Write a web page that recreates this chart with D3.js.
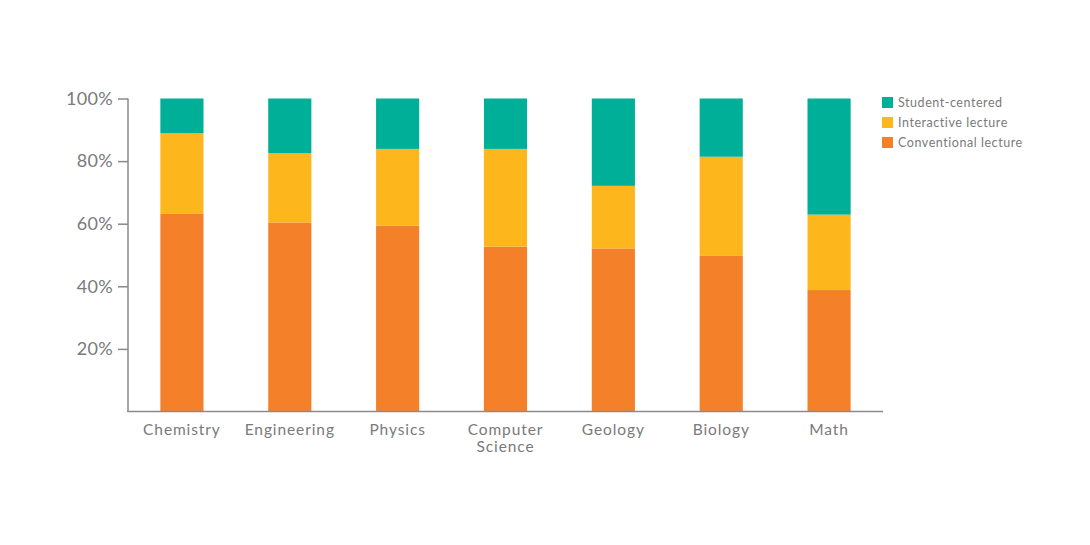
<!DOCTYPE html>
<html><head><meta charset="utf-8">
<script src="https://cdn.jsdelivr.net/npm/d3@7"></script>
<style>body{margin:0;background:#fff}svg{display:block}text{font-family:Lato,"Open Sans",sans-serif}</style>
</head><body>
<svg id="c" width="1090" height="545"></svg>
<script>
const categories = ["Chemistry", "Engineering", "Physics", "Computer Science", "Geology", "Biology", "Math"];
const conventional = [63.3, 60.4, 59.4, 52.7, 52.1, 49.7, 38.8];
const interactive = [25.6, 22.1, 24.5, 31.2, 20.0, 31.7, 24.1];
const studentCentered = [11.1, 17.5, 16.1, 16.1, 27.9, 18.6, 37.1];
const seriesNames = ["Conventional lecture", "Interactive lecture", "Student-centered"];
const yTicks = [20, 40, 60, 80, 100];
const colors = ["#f5802a", "#fdb71c", "#00af97"];

(function () {
const svg = d3.select("#c");
const mLeft = 128, mRight = 883, mTop = 98.5, mBottom = 411.5;
const rows = categories.map((c, i) => ({cat: c, "Conventional lecture": conventional[i], "Interactive lecture": interactive[i], "Student-centered": studentCentered[i]}));
const stacked = d3.stack().keys(seriesNames)(rows);

const x = d3.scaleBand().domain(categories).range([mLeft, mRight]).paddingInner(0.6).paddingOuter(0.3);
const y = d3.scaleLinear().domain([0, 100]).range([mBottom, mTop]);

svg.append("g").selectAll("g").data(stacked).join("g")
  .attr("fill", (d, i) => colors[i])
  .selectAll("rect").data(d => d).join("rect")
  .attr("x", d => x(d.data.cat))
  .attr("width", x.bandwidth())
  .attr("y", d => y(d[1]))
  .attr("height", d => y(d[0]) - y(d[1]));

const axisColor = "#8a8a8a", textColor = "#7a7a7a";
const yAxis = svg.append("g").attr("transform", `translate(${mLeft},0)`)
  .call(d3.axisLeft(y).tickValues(yTicks).tickFormat(d => d + "%").tickSize(10).tickSizeOuter(0).tickPadding(5));
yAxis.select(".domain").remove();
yAxis.selectAll("line").attr("stroke", axisColor).attr("stroke-width", 1.5);
yAxis.selectAll("text").attr("fill", textColor).attr("font-size", 18).attr("font-family", "Lato, sans-serif").attr("letter-spacing", 0.3);
svg.append("line").attr("x1", mLeft).attr("x2", mLeft).attr("y1", y(100)).attr("y2", mBottom + 0.5)
  .attr("stroke", axisColor).attr("stroke-width", 1.5);
svg.append("line").attr("x1", mLeft - 0.75).attr("x2", mRight).attr("y1", mBottom).attr("y2", mBottom)
  .attr("stroke", axisColor).attr("stroke-width", 1.5);

const xl = svg.append("g");
categories.forEach(c => {
  const words = c.split(" ");
  const cx = x(c) + x.bandwidth() / 2;
  const t = xl.append("text").attr("text-anchor", "middle").attr("fill", textColor).attr("font-size", 15.5)
    .attr("letter-spacing", 0.9).attr("x", cx).attr("y", 435);
  words.forEach((w, i) => t.append("tspan").attr("x", cx).attr("dy", i ? 17 : 0).text(w));
});

const legendOrder = ["Student-centered", "Interactive lecture", "Conventional lecture"];
const lg = svg.append("g");
legendOrder.forEach((n, i) => {
  const yy = 97 + i * 20;
  lg.append("rect").attr("x", 882).attr("y", yy).attr("width", 11).attr("height", 11).attr("fill", colors[seriesNames.indexOf(n)]);
  lg.append("text").attr("x", 898).attr("y", yy + 10).attr("fill", textColor).attr("font-size", 12.5)
    .attr("letter-spacing", 0.55).text(n);
});
})();
</script>
</body></html>
